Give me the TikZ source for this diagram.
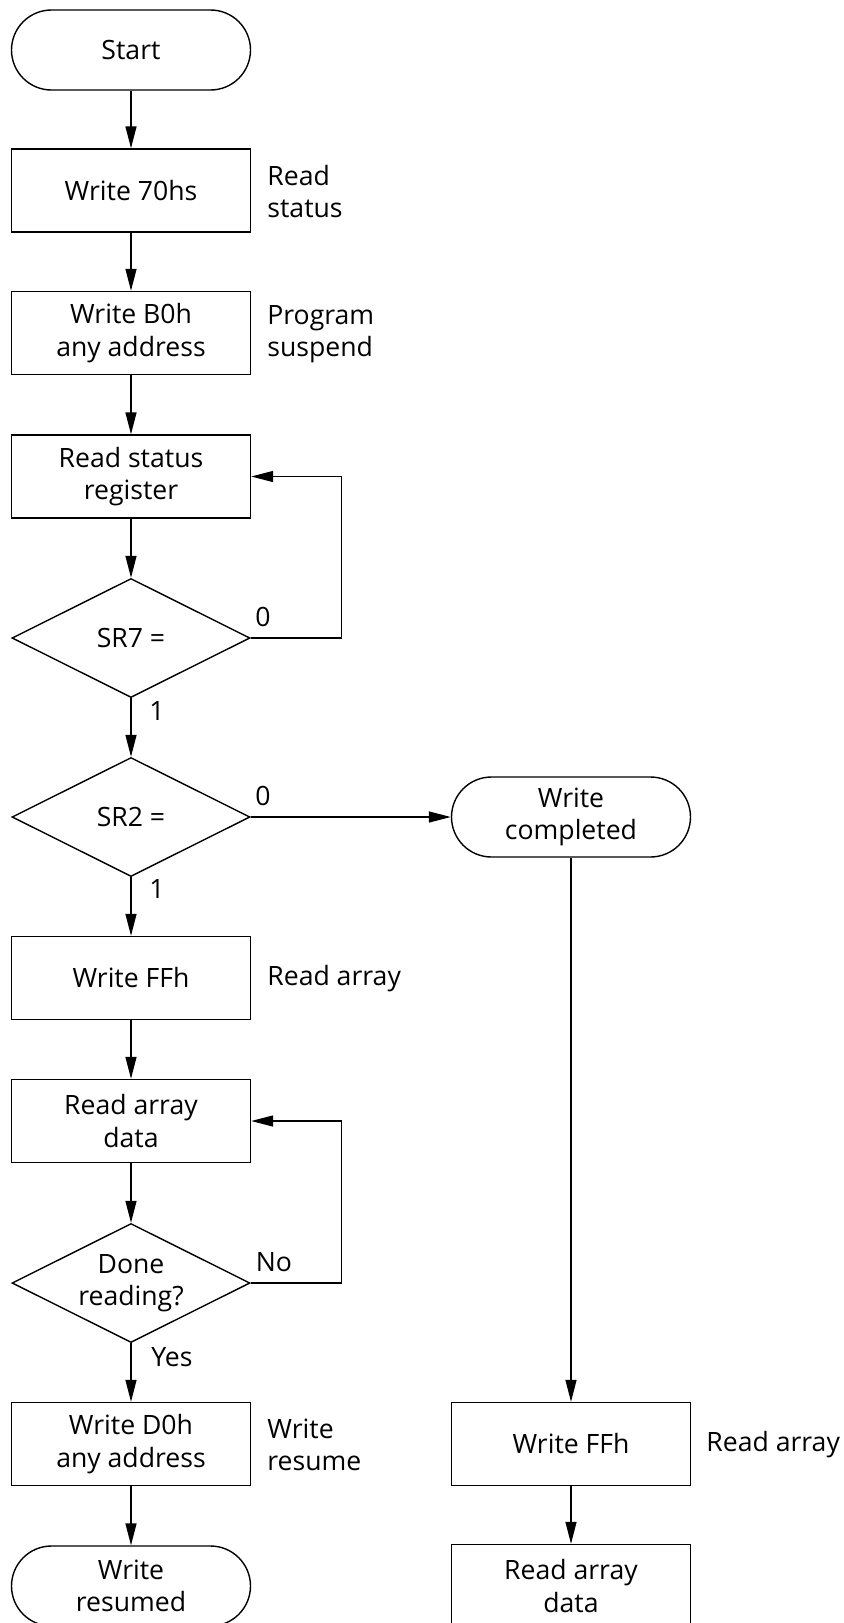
\documentclass[tikz,border=0pt]{standalone}
\usepackage{fontspec}
\setmainfont{Open Sans}
\usetikzlibrary{positioning,arrows.meta,shapes.geometric}

\tikzset{
  stepbox/.style={draw, line width=0.7pt, minimum width=119.5pt, minimum height=41.5pt, align=center, inner sep=0pt},
  termbox/.style={draw, line width=0.7pt, rounded corners=20pt, minimum width=119.5pt, minimum height=40pt, align=center, inner sep=0pt},
  testbox/.style={draw, diamond, aspect=2, line width=0.7pt, minimum width=119pt, minimum height=59.5pt, inner sep=0pt, align=center},
  note/.style={anchor=west, align=left, inner sep=0pt},
  tag/.style={inner sep=0pt},
  flow/.style={-{Triangle[length=11pt,width=5.5pt]}, line width=0.7pt}
}

\begin{document}
\begin{tikzpicture}[x=0.5pt, y=-0.5pt, font=\fontsize{13.3}{16.2}\selectfont]
  \useasboundingbox (0,0) rectangle (844,1623);

  % main column
  \node[termbox] (start) at (131,50) {Start};
  \node[stepbox] (w70) at (131,190.5) {Write 70hs};
  \node[stepbox] (wB0) at (131,333) {Write B0h\\any address};
  \node[stepbox] (rsr) at (131,476.5) {Read status\\register};
  \node[testbox] (sr7) at (131,638) {SR7 =};
  \node[testbox] (sr2) at (131,817) {SR2 =};
  \node[stepbox] (wFF) at (131,978) {Write FFh};
  \node[stepbox] (rad) at (131,1121) {Read array\\data};
  \node[testbox] (done) at (131,1283) {Done\\reading?};
  \node[stepbox] (wD0) at (131,1444) {Write D0h\\any address};
  \node[termbox] (wres) at (131,1586) {Write\\resumed};

  % right column
  \node[termbox] (wcomp) at (571,817) {Write\\completed};
  \node[stepbox] (wFFb) at (571,1444) {Write FFh};
  \node[stepbox] (radb) at (571,1586) {Read array\\data};

  % side notes
  \node[note] (n70) at (267,191.5) {Read\\status};
  \node[note] (nB0) at (267,334) {Program\\suspend};
  \node[note] (nFF) at (267,979) {Read array};
  \node[note] (nD0) at (267,1445) {Write\\resume};
  \node[note] (nFFb) at (706,1445) {Read array};

  % branch tags
  \node[tag] (t7no) at (263,617) {0};
  \node[tag] (t7yes) at (157,711) {1};
  \node[tag] (t2no) at (263,796) {0};
  \node[tag] (t2yes) at (157,889) {1};
  \node[tag] (tdno) at (274,1262) {No};
  \node[tag, anchor=west] (tdyes) at (151,1357) {Yes};

  % connectors
  \draw[flow] (start) -- (w70);
  \draw[flow] (w70) -- (wB0);
  \draw[flow] (wB0) -- (rsr);
  \draw[flow] (rsr) -- (sr7);
  \draw[flow] (sr7) -- (sr2);
  \draw[flow] (sr7.east) -- ++(91,0) |- (rsr.east);
  \draw[flow] (sr2) -- (wFF);
  \draw[flow] (sr2.east) -- (wcomp.west);
  \draw[flow] (wFF) -- (rad);
  \draw[flow] (rad) -- (done);
  \draw[flow] (done.east) -- ++(91,0) |- (rad.east);
  \draw[flow] (done) -- (wD0);
  \draw[flow] (wD0) -- (wres);
  \draw[flow] (wcomp) -- (wFFb);
  \draw[flow] (wFFb) -- (radb);
\end{tikzpicture}
\end{document}
